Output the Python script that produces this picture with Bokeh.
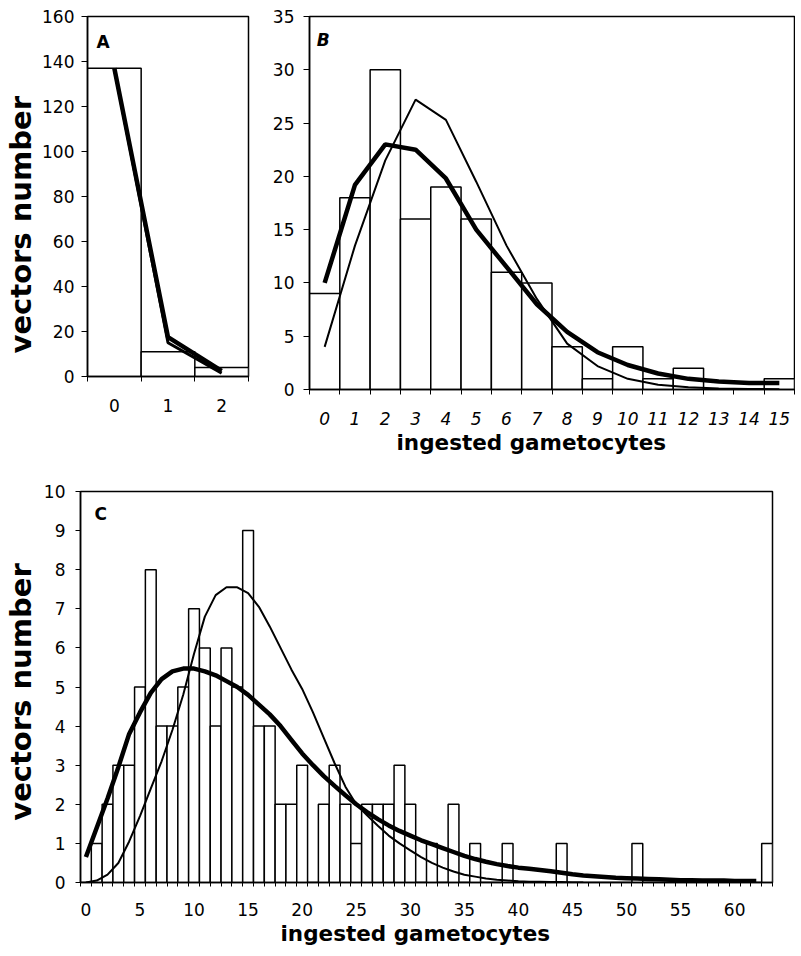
from bokeh.plotting import figure
from bokeh.layouts import column, row
from bokeh.models import FixedTicker, Label, Range1d, Title
from bokeh.embed import file_html
from bokeh.resources import INLINE

# ---------------- data ----------------
# Panel A
a_x = [0, 1, 2]
a_counts = [137, 11, 4]
a_fit_thick = [137, 17.5, 2.5]
a_fit_thin = [137, 15, 1.5]
a_yticks = [0, 20, 40, 60, 80, 100, 120, 140, 160]

# Panel B
b_x = list(range(16))
b_counts = [9, 18, 30, 16, 19, 16, 11, 10, 4, 1, 4, 1, 2, 0, 0, 1]
b_fit_thick = [10, 19.2, 23, 22.5, 19.8, 15.0, 11.5, 8.0, 5.4, 3.5, 2.3, 1.5, 1.0, 0.75, 0.62, 0.6]
b_fit_thin = [4, 13.5, 21.5, 27.2, 25.3, 19.5, 13.5, 8.5, 4.3, 2.2, 1.0, 0.45, 0.2, 0.1, 0.05, 0.02]
b_yticks = [0, 5, 10, 15, 20, 25, 30, 35]

# Panel C
c_x = list(range(64))
c_counts = [0, 1, 2, 3, 3, 5, 8, 4, 4, 5, 7, 6, 4, 6, 5, 9, 4, 4, 2, 2,
            3, 0, 2, 3, 2, 1, 2, 2, 2, 3, 2, 0, 1, 0, 2, 0, 1, 0, 0, 1,
            0, 0, 0, 0, 1, 0, 0, 0, 0, 0, 0, 1, 0, 0, 0, 0, 0, 0, 0, 0,
            0, 0, 0, 1]
c_thick_x = list(range(63))
c_fit_thick = [0.65, 1.4, 2.15, 2.95, 3.8, 4.35, 4.85, 5.2, 5.4, 5.47,
               5.47, 5.4, 5.3, 5.15, 5.0, 4.8, 4.55, 4.3, 4.0, 3.65,
               3.3, 3.0, 2.72, 2.47, 2.23, 2.0, 1.8, 1.62, 1.46, 1.32,
               1.2, 1.08, 0.98, 0.88, 0.78, 0.68, 0.6, 0.53, 0.47, 0.42,
               0.38, 0.35, 0.32, 0.29, 0.25, 0.21, 0.18, 0.16, 0.14, 0.12,
               0.11, 0.1, 0.09, 0.08, 0.07, 0.06, 0.06, 0.05, 0.05, 0.05,
               0.04, 0.04, 0.04]
c_thin_x = list(range(47))
c_fit_thin = [0.0, 0.05, 0.2, 0.5, 1.05, 1.7, 2.4, 3.1, 3.9, 4.8,
              5.85, 6.8, 7.35, 7.55, 7.55, 7.4, 7.05, 6.55, 6.0, 5.45,
              4.95, 4.35, 3.7, 3.05, 2.45, 2.0, 1.72, 1.45, 1.2, 1.0,
              0.82, 0.65, 0.5, 0.38, 0.28, 0.2, 0.15, 0.1, 0.07, 0.05,
              0.03, 0.02, 0.02, 0.01, 0.01, 0.0, 0.0]
c_xticks = [0, 5, 10, 15, 20, 25, 30, 35, 40, 45, 50, 55, 60]
c_yticks = list(range(11))

FONT = "DejaVu Sans"
YLABEL = "vectors  number"
XLABEL = "ingested  gametocytes"


def style(p, xt, xminor, yt, xfont_style="normal"):
    p.xgrid.visible = False
    p.ygrid.visible = False
    p.outline_line_color = "black"
    p.outline_line_width = 1.5
    p.background_fill_color = "white"
    p.border_fill_color = "white"
    xa = p.xaxis[0]
    xa.ticker = FixedTicker(ticks=xt, minor_ticks=xminor)
    xa.major_tick_out = 0
    xa.major_tick_in = 0
    xa.minor_tick_out = 5
    xa.minor_tick_in = 0
    xa.minor_tick_line_color = "black"
    xa.axis_line_width = 1.5
    xa.major_label_text_font = FONT
    xa.major_label_text_font_size = "17px"
    xa.major_label_text_font_style = xfont_style
    xa.major_label_text_color = "black"
    ya = p.yaxis[0]
    ya.ticker = FixedTicker(ticks=yt)
    ya.major_tick_out = 6
    ya.major_tick_in = 0
    ya.minor_tick_line_color = None
    ya.axis_line_width = 1.5
    ya.major_label_text_font = FONT
    ya.major_label_text_font_size = "17px"
    ya.major_label_text_color = "black"
    ya.major_label_standoff = 7


def add_title(p, text, place, size, align, offset, standoff):
    p.add_layout(Title(text=text, align=align, offset=offset, standoff=standoff,
                       text_font=FONT, text_font_size=size, text_font_style="bold",
                       text_color="black"), place)


# ---------------- Panel A ----------------
pa = figure(frame_width=161, frame_height=360, min_border_left=83, min_border_right=3,
            min_border_top=16, min_border_bottom=92,
            x_range=Range1d(-0.5, 2.5), y_range=Range1d(0, 160),
            output_backend="svg", toolbar_location=None)
pa.vbar(x=a_x, top=a_counts, width=1, bottom=0, fill_color="white",
        line_color="black", line_width=1.5)
pa.line(a_x, a_fit_thin, line_color="black", line_width=3)
pa.line(a_x, a_fit_thick, line_color="black", line_width=4.5)
style(pa, a_x, [-0.5, 0.5, 1.5, 2.5], a_yticks)
pa.xaxis[0].major_label_standoff = 17
add_title(pa, YLABEL, "left", "29px", "left", 23, 3)
pa.add_layout(Label(x=-0.33, y=148.7, text="A", text_font=FONT, text_font_style="bold",
                    text_font_size="17px", text_baseline="middle", text_color="black"))

# ---------------- Panel B ----------------
pb = figure(frame_width=485, frame_height=373, min_border_left=58, min_border_right=1,
            min_border_top=15, min_border_bottom=80,
            x_range=Range1d(-0.5, 15.5), y_range=Range1d(0, 35),
            output_backend="svg", toolbar_location=None)
pb.vbar(x=b_x, top=b_counts, width=1, bottom=0, fill_color="white",
        line_color="black", line_width=1.5)
pb.line(b_x, b_fit_thin, line_color="black", line_width=2)
pb.line(b_x, b_fit_thick, line_color="black", line_width=4.5)
style(pb, b_x, [i - 0.5 for i in range(17)], b_yticks, "italic")
pb.xaxis[0].major_label_standoff = 17
add_title(pb, XLABEL, "below", "21.5px", "left", 87, 0)
pb.yaxis[0].major_label_standoff = 9
pb.add_layout(Label(x=-0.26, y=32.8, text="B", text_font=FONT, text_font_style="bold italic",
                    text_font_size="17px", text_baseline="middle", text_color="black"))

# ---------------- Panel C ----------------
pc = figure(frame_width=692, frame_height=391, min_border_left=75, min_border_right=10,
            min_border_top=23, min_border_bottom=58,
            x_range=Range1d(-0.5, 63.5), y_range=Range1d(0, 10),
            output_backend="svg", toolbar_location=None)
pc.vbar(x=c_x, top=c_counts, width=1, bottom=0, fill_color="white",
        line_color="black", line_width=1.5)
pc.line(c_thin_x, c_fit_thin, line_color="black", line_width=2)
pc.line(c_thick_x, c_fit_thick, line_color="black", line_width=4.5)
style(pc, c_xticks, [i - 0.5 for i in range(65)], c_yticks)
pc.xaxis[0].minor_tick_out = 4
pc.xaxis[0].major_label_standoff = 16
pc.yaxis[0].major_tick_out = 5
pc.yaxis[0].major_label_standoff = 10
add_title(pc, XLABEL, "below", "21.5px", "left", 200, 1)
pc.yaxis[0].axis_label = YLABEL
pc.yaxis[0].axis_label_text_font = FONT
pc.yaxis[0].axis_label_text_font_style = "bold"
pc.yaxis[0].axis_label_text_font_size = "29px"
pc.yaxis[0].axis_label_text_color = "black"
pc.yaxis[0].axis_label_standoff = 3
pc.add_layout(Label(x=0.8, y=9.42, text="C", text_font=FONT, text_font_style="bold",
                    text_font_size="17px", text_baseline="middle", text_color="black"))

layout = column(row(pa, pb), pc)
open("out.html", "w").write(file_html(layout, INLINE))
